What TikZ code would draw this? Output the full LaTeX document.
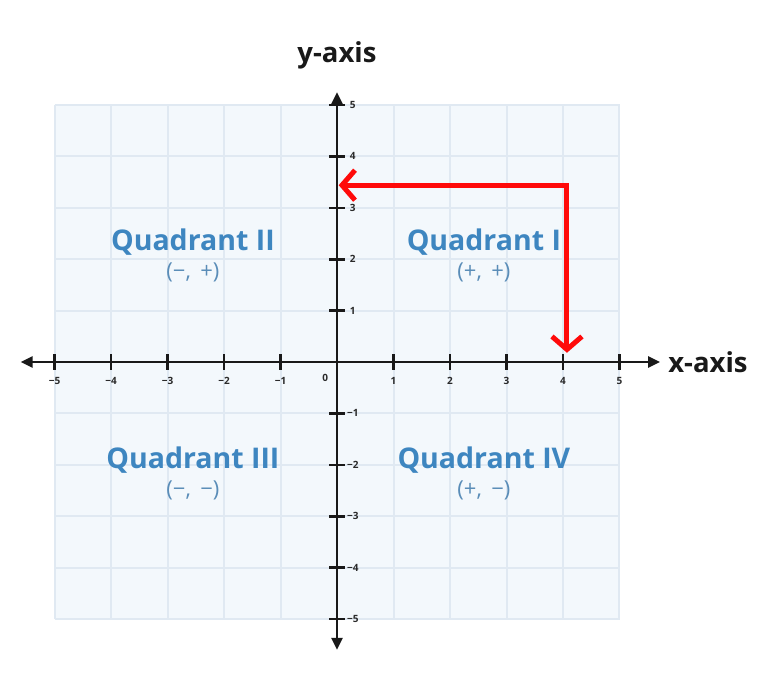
\documentclass[tikz,border=0pt]{standalone}
\usepackage{fontspec}
\setmainfont{Open Sans}
\usetikzlibrary{arrows.meta}
\definecolor{gridfill}{HTML}{F3F8FC}
\definecolor{gridline}{HTML}{E0E9F2}
\definecolor{quadblue}{HTML}{3E86C0}
\definecolor{signblue}{HTML}{5A8DB8}
\definecolor{axisred}{HTML}{FF0A0A}
\definecolor{ticktext}{HTML}{2A2A2A}
\tikzset{
  axisline/.style={line width=2.6pt, black!90, -{Triangle[length=12pt,width=11pt]}},
  tickmark/.style={line width=2.6pt, black!90},
  ticklabel/.style={font=\bfseries\fontsize{10}{10}\selectfont, text=ticktext, inner sep=0pt},
  quadlabel/.style={font=\fontsize{28.5}{28.5}\selectfont\bfseries, text=quadblue, inner sep=0pt},
  signlabel/.style={font=\fontsize{22}{22}\selectfont, text=signblue, inner sep=0pt},
  axislabel/.style={font=\fontsize{27.5}{27.5}\selectfont\bfseries, text=black!90, inner sep=0pt},
  redarrow/.style={draw=axisred, line width=5pt, line join=miter,
    {Straight Barb[length=13pt,width=30pt]}-{Straight Barb[length=13pt,width=30pt]}}
}
\begin{document}
\begin{tikzpicture}[x=1pt,y=-1pt]
\useasboundingbox (0,0) rectangle (769,686);
\fill[white] (0,0) rectangle (769,686);
\begin{scope}[shift={(337,362)}, x=56.5pt, y=51.4pt]
  % grid
  \fill[gridfill] (-5,-5) rectangle (5,5);
  \draw[gridline, line width=2pt, step=1] (-5,-5) grid (5,5);
  % axes
  \coordinate (xl) at (-5.6,0);
  \coordinate (xr) at (5.72,0);
  \coordinate (yb) at (0,-5.6);
  \coordinate (yt) at (0,5.25);
  \coordinate (orig) at (0,0);
  \draw[axisline] (orig) -- (xr);
  \draw[axisline] (orig) -- (xl);
  \draw[axisline] (orig) -- (yt);
  \draw[axisline] (orig) -- (yb);
  % ticks
  \foreach \i/\t in {-5/−5,-4/−4,-3/−3,-2/−2,-1/−1,1/1,2/2,3/3,4/4,5/5}{
    \draw[tickmark] (\i,-0.15) -- (\i,0.15);
    \node[ticklabel] (xt\i) at (\i,-0.37) {\t};
    \draw[tickmark] (-0.135,\i) -- (0.135,\i);
    \node[ticklabel] (yt\i) at (0.28,\i) {\t};
  }
  \node[ticklabel] (zero) at (-0.21,-0.31) {0};
  % axis labels
  \node[axislabel, anchor=west] (xlab) at (5.86,0) {x-axis};
  \node[axislabel] (ylab) at (0,5.97) {y-axis};
  % quadrant labels
  \node[quadlabel] (q2) at (-2.55,2.33) {Quadrant II};
  \node[signlabel] (s2) at (-2.55,1.74) {(−,\, +)};
  \node[quadlabel] (q1) at (2.6,2.33) {Quadrant I};
  \node[signlabel] (s1) at (2.6,1.74) {(+,\, +)};
  \node[quadlabel] (q3) at (-2.55,-1.9) {Quadrant III};
  \node[signlabel] (s3) at (-2.55,-2.5) {(−,\, −)};
  \node[quadlabel] (q4) at (2.6,-1.9) {Quadrant IV};
  \node[signlabel] (s4) at (2.6,-2.5) {(+,\, −)};
  % red arrow
  \coordinate (htip) at (0.03,3.44);
  \coordinate (corner) at (4.07,3.44);
  \coordinate (vtip) at (4.07,0.18);
  \draw[redarrow] (htip) -- (corner) -- (vtip);
\end{scope}
\end{tikzpicture}
\end{document}
